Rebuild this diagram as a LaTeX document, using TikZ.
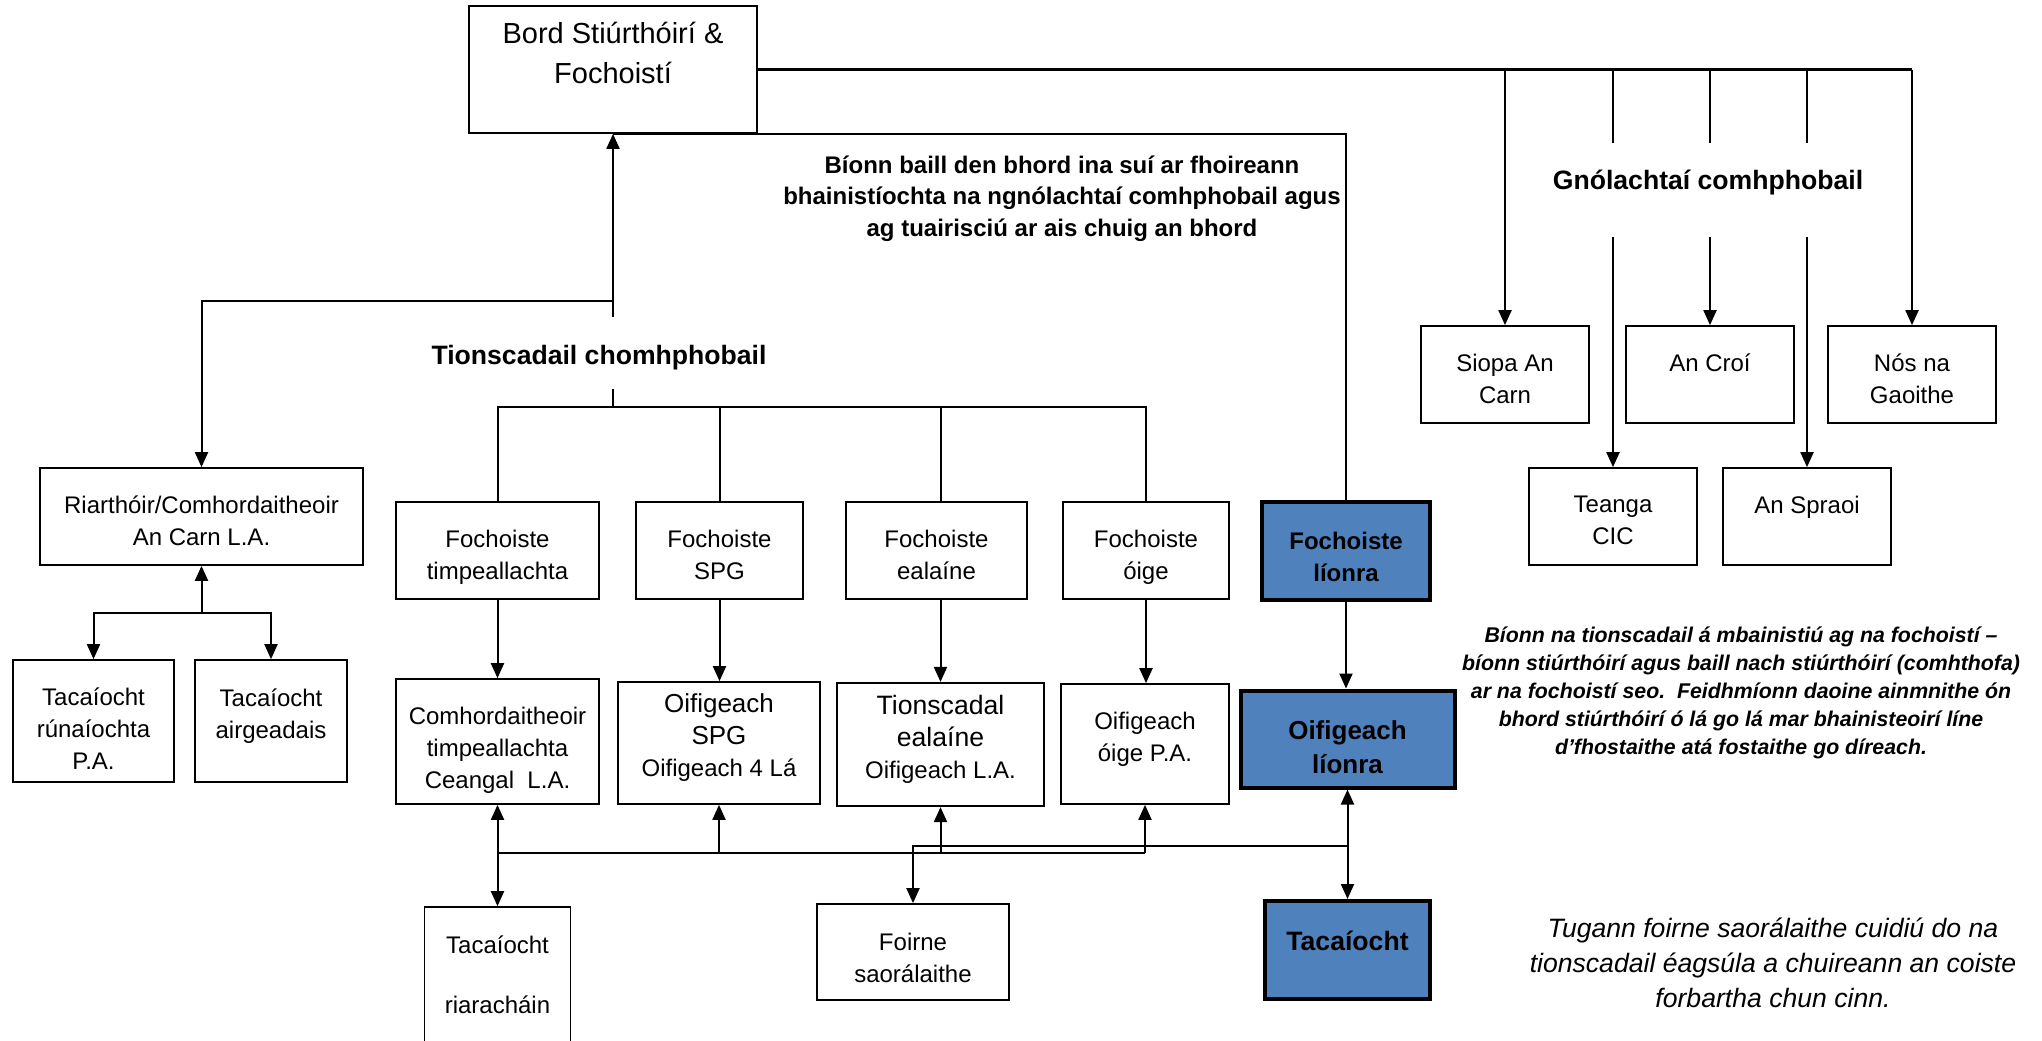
\documentclass[tikz,border=0pt]{standalone}
\usepackage{fontspec}
\setmainfont{Liberation Sans}
\usepackage{tikz}
\usetikzlibrary{arrows.meta}
\definecolor{lionblue}{HTML}{4F81BD}
\newcommand{\boxlines}[2][0pt]{\raisebox{#1}[\height][\depth]{\begin{tabular}{@{}c@{}}#2\end{tabular}}}
\tikzset{
	box/.style={draw, line width=0.85pt, inner sep=0pt, fill=white, font=\fontsize{12}{16}\selectfont},
	bluebox/.style={box, fill=lionblue, line width=2pt, font=\bfseries\fontsize{12}{16}\selectfont},
	headtext/.style={inner sep=0pt, font=\bfseries\fontsize{13.3}{16}\selectfont},
	wire/.style={line width=1pt},
	heavy/.style={line width=1.5pt},
	>={Triangle[length=7.5pt,width=6.5pt]}
}

\begin{document}
\begin{tikzpicture}[x=0.5pt, y=-0.5pt]
			%%%%% START %%%%%
			\useasboundingbox (0,0) rectangle (2042,1040);
			
			\node[box, minimum width=144pt, minimum height=63.5pt, font=\fontsize{14.5}{20}\selectfont] (bord) at (613,69.5) {\boxlines[7.25pt]{Bord Stiúrthóirí \&\\Fochoistí}};
			
			\node[box, minimum width=84pt, minimum height=48.5pt] (siopa) at (1505,374.5) {\boxlines[-3.25pt]{Siopa An\\Carn}};
			\node[box, minimum width=84pt, minimum height=48.5pt] (croi) at (1710,374.5) {\boxlines[4.75pt]{An Croí}};
			\node[box, minimum width=84pt, minimum height=48.5pt] (nos) at (1912,374.5) {\boxlines[-3.25pt]{Nós na\\Gaoithe}};
			\node[box, minimum width=84pt, minimum height=48.5pt] (teanga) at (1613,516.5) {\boxlines[-3pt]{Teanga\\CIC}};
			\node[box, minimum width=84pt, minimum height=48.5pt] (spraoi) at (1807,516.5) {\boxlines[4.75pt]{An Spraoi}};
			
			\node[box, minimum width=161.5pt, minimum height=48.5pt] (riar) at (201.5,516.5) {\boxlines[-3.5pt]{Riarthóir/Comhordaitheoir\\An Carn L.A.}};
			\node[box, minimum width=80.5pt, minimum height=61pt] (tacrun) at (93.5,721) {\boxlines[-5.25pt]{Tacaíocht\\rúnaíochta\\P.A.}};
			\node[box, minimum width=76pt, minimum height=61pt] (tacair) at (271,721) {\boxlines[2.5pt]{Tacaíocht\\airgeadais}};
			
			\node[box, minimum width=101.5pt, minimum height=48.5pt] (fch1) at (497.5,550.5) {\boxlines[-3.5pt]{Fochoiste\\timpeallachta}};
			\node[box, minimum width=83.5pt, minimum height=48.5pt] (fch2) at (719.5,550.5) {\boxlines[-3.5pt]{Fochoiste\\SPG}};
			\node[box, minimum width=90.5pt, minimum height=48.5pt] (fch3) at (936.5,550.5) {\boxlines[-3.5pt]{Fochoiste\\ealaíne}};
			\node[box, minimum width=83pt, minimum height=48.5pt] (fch4) at (1146,550.5) {\boxlines[-3.5pt]{Fochoiste\\óige}};
			\node[bluebox, minimum width=84pt, minimum height=49pt] (flion) at (1346,551) {\boxlines[-4pt]{Fochoiste\\líonra}};
			
			\node[box, minimum width=101.5pt, minimum height=62.5pt] (comh) at (497.5,741.5) {\boxlines[-4.25pt]{Comhordaitheoir\\timpeallachta\\Ceangal\ \ L.A.}};
			\node[box, minimum width=101pt, minimum height=61pt] (oifspg) at (719,743) {\boxlines[2.5pt]{\fontsize{13}{15}\selectfont Oifigeach\\\fontsize{13}{15}\selectfont SPG\\Oifigeach 4 Lá}};
			\node[box, line width=1.1pt, minimum width=103.5pt, minimum height=61.5pt] (tionsc) at (940.5,744.5) {\boxlines[2.25pt]{\fontsize{13.3}{15}\selectfont Tionscadal\\\fontsize{13.3}{15}\selectfont ealaíne\\Oifigeach L.A.}};
			\node[box, minimum width=84pt, minimum height=60pt] (oifoige) at (1145,744) {\boxlines[2.5pt]{Oifigeach\\óige P.A.}};
			\node[bluebox, minimum width=107pt, minimum height=48.5pt, font=\bfseries\fontsize{13}{17}\selectfont] (olion) at (1347.5,739) {\boxlines[-5.5pt]{Oifigeach\\líonra}};
			
			\node[box, minimum width=73pt, minimum height=73pt] (tacriar) at (497.5,980) {\boxlines[1.5pt]{Tacaíocht\\[14pt]riaracháin}};
			\node[box, minimum width=96pt, minimum height=48pt] (foirne) at (913,952) {\boxlines[-4pt]{Foirne\\saorálaithe}};
			\node[bluebox, minimum width=82.5pt, minimum height=49pt, font=\bfseries\fontsize{13.3}{16}\selectfont] (tacblue) at (1347.5,950) {\boxlines[3pt]{Tacaíocht}};
			
			\node[headtext, minimum height=36pt] (tion) at (599,353) {\boxlines[-2.5pt]{Tionscadail chomhphobail}};
			\node[headtext, minimum height=47pt] (gno) at (1708,190) {\boxlines[3.5pt]{Gnólachtaí comhphobail}};
			
			\node[inner sep=0pt, font=\bfseries\fontsize{12}{15.75}\selectfont] (boardnote) at (1062,198.5) {\boxlines{Bíonn baill den bhord ina suí ar fhoireann\\bhainistíochta na ngnólachtaí comhphobail agus\\ag tuairisciú ar ais chuig an bhord}};
			\node[inner sep=0pt, font=\bfseries\itshape\fontsize{10.66}{14}\selectfont] (subnote) at (1741,693) {\boxlines{Bíonn na tionscadail á mbainistiú ag na fochoistí –\\bíonn stiúrthóirí agus baill nach stiúrthóirí (comhthofa)\\ar na fochoistí seo.\ \ Feidhmíonn daoine ainmnithe ón\\bhord stiúrthóirí ó lá go lá mar bhainisteoirí líne\\d’fhostaithe atá fostaithe go díreach.}};
			\node[inner sep=0pt, font=\itshape\fontsize{13.3}{17.5}\selectfont] (volnote) at (1773,965) {\boxlines{Tugann foirne saorálaithe cuidiú do na\\tionscadail éagsúla a chuireann an coiste\\forbartha chun cinn.}};
			
			% board to the businesses
			\draw[heavy] (bord.east) -- (bord.east -| nos);
			\draw[wire,->] (bord.east -| nos) -- (nos.north);
			\draw[wire,->] (bord.east -| siopa) -- (siopa.north);
			\draw[wire] (bord.east -| teanga) -- (gno.north -| teanga);
			\draw[wire,->] (gno.south -| teanga) -- (teanga.north);
			\draw[wire] (bord.east -| croi) -- (gno.north -| croi);
			\draw[wire,->] (gno.south -| croi) -- (croi.north);
			\draw[wire] (bord.east -| spraoi) -- (gno.north -| spraoi);
			\draw[wire,->] (gno.south -| spraoi) -- (spraoi.north);
			
			% board to the projects
			\draw[wire] (bord.south) -| (flion.north);
			\draw[wire,->] (tion.north -| bord.south) -- (bord.south);
			\coordinate (riarjoin) at (613,301);
			\draw[wire,->] (riarjoin) -| (riar.north);
			\coordinate (fchjoin) at (613,407);
			\draw[wire] (tion.south -| bord.south) -- (fchjoin);
			\draw[wire] (fch1.north) |- (fchjoin) -| (fch4.north);
			\draw[wire] (fchjoin -| fch2) -- (fch2.north);
			\draw[wire] (fchjoin -| tionsc) -- (fch3.north -| tionsc);
			
			\draw[wire,->] (fch1.south) -- (comh.north);
			\draw[wire,->] (fch2.south) -- (fch2.south |- oifspg.north);
			\draw[wire,->] (fch3.south -| tionsc) -- (tionsc.north);
			\draw[wire,->] (fch4.south) -- (fch4.south |- oifoige.north);
			\draw[wire,->] (flion.south) -- (flion.south |- olion.north);
			
			% administration
			\coordinate (runjoin) at (201.5,613);
			\draw[wire,->] (runjoin) -- (riar.south);
			\draw[wire,->] (runjoin) -| (tacrun.north);
			\draw[wire,->] (runjoin) -| (tacair.north);
			
			% support lines at the bottom
			\coordinate (projoin) at (497.5,853);
			\draw[wire,->] (projoin) -- (comh.south);
			\draw[wire,->] (projoin) -- (tacriar.north);
			\draw[wire] (projoin) -- (projoin -| oifoige);
			\draw[wire,->] (projoin -| oifspg) -- (oifspg.south);
			\draw[wire,->] (projoin -| tionsc) -- (tionsc.south);
			\draw[wire,->] (projoin -| oifoige) -- (oifoige.south);
			
			\coordinate (lionjoin) at (1347.5,846);
			\draw[wire,->] (lionjoin) -- (olion.south);
			\draw[wire,->] (lionjoin) -- (tacblue.north);
			\draw[wire,->] (lionjoin) -| (foirne.north);
			%%%%% END %%%%%
\end{tikzpicture}
\end{document}
